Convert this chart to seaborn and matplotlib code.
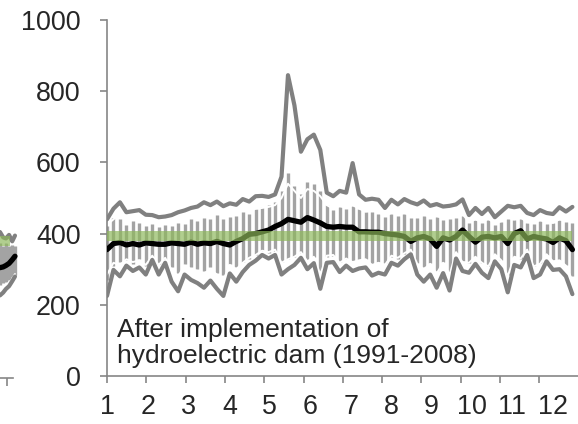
import numpy as np
import pandas as pd
import seaborn as sns
import matplotlib.pyplot as plt

# day-of-year samples every 5 days, expressed in months (1 = 1 Jan)
days = np.arange(1, 366, 5)
month = 1 + (days - 1) / 30.4

q_max = [440, 470, 488, 460, 463, 466, 453, 452, 446, 448, 452, 460, 465, 472, 476, 488,
         480, 490, 477, 485, 481, 497, 490, 505, 506, 503, 510, 560, 845, 760, 630, 665,
         678, 635, 515, 505, 520, 515, 598, 510, 495, 498, 495, 472, 495, 482, 497, 488,
         482, 493, 478, 483, 476, 478, 482, 496, 452, 472, 455, 472, 446, 462, 478, 474,
         478, 458, 452, 466, 458, 455, 474, 462, 475]
q_min = [225, 298, 280, 310, 295, 305, 285, 326, 285, 318, 265, 238, 285, 270, 261, 248,
         268, 245, 225, 288, 265, 292, 312, 324, 340, 330, 340, 285, 300, 312, 332, 300,
         317, 245, 318, 320, 292, 310, 295, 302, 305, 282, 290, 285, 318, 310, 328, 342,
         285, 265, 285, 248, 289, 240, 330, 295, 290, 315, 290, 275, 322, 300, 235, 312,
         305, 340, 275, 285, 322, 298, 300, 280, 230]
q_upper = [425, 440, 455, 438, 440, 445, 432, 435, 428, 430, 432, 438, 440, 445, 448, 455,
           450, 458, 452, 455, 458, 465, 462, 470, 472, 475, 480, 500, 540, 520, 500, 525,
           520, 505, 480, 470, 478, 472, 480, 470, 462, 465, 460, 450, 458, 455, 458, 452,
           448, 455, 445, 450, 442, 445, 448, 455, 432, 440, 432, 442, 428, 435, 445, 440,
           445, 432, 430, 438, 432, 430, 440, 435, 440]
q_lower = [285, 318, 312, 328, 320, 325, 312, 338, 312, 332, 298, 280, 310, 300, 295, 288,
           300, 285, 270, 312, 300, 318, 332, 340, 352, 348, 355, 318, 328, 335, 348, 322,
           335, 285, 338, 340, 318, 330, 320, 325, 328, 312, 318, 312, 338, 332, 345, 355,
           315, 300, 315, 288, 318, 285, 348, 320, 318, 335, 318, 308, 342, 325, 280, 335,
           330, 355, 308, 315, 342, 322, 325, 310, 268]
bar_top = [420, 445, 440, 425, 435, 430, 420, 428, 418, 425, 422, 430, 428, 440, 435, 445,
           440, 452, 440, 448, 450, 460, 455, 470, 475, 480, 490, 520, 570, 535, 510, 545,
           540, 520, 480, 465, 475, 470, 478, 468, 460, 462, 455, 448, 455, 450, 455, 445,
           445, 450, 440, 448, 438, 442, 445, 450, 430, 438, 430, 438, 425, 432, 440, 438,
           440, 430, 428, 435, 428, 430, 438, 432, 430]
bar_bot = [270, 310, 320, 325, 315, 330, 310, 335, 315, 330, 305, 290, 315, 305, 300, 295,
           305, 290, 285, 315, 305, 320, 330, 340, 350, 345, 350, 320, 330, 335, 345, 325,
           335, 295, 335, 338, 320, 330, 322, 325, 330, 315, 320, 318, 335, 330, 342, 352,
           318, 305, 318, 295, 320, 290, 345, 322, 318, 335, 318, 310, 340, 325, 285, 335,
           330, 352, 310, 318, 340, 325, 325, 312, 280]
q_mean = [355, 372, 375, 368, 372, 368, 374, 372, 370, 370, 374, 372, 370, 376, 370, 374,
          372, 378, 372, 368, 378, 386, 398, 400, 405, 410, 420, 428, 440, 436, 432, 445,
          438, 430, 420, 418, 420, 418, 418, 405, 405, 404, 404, 400, 398, 396, 392, 378,
          388, 392, 385, 364, 388, 382, 392, 410, 392, 376, 390, 392, 388, 392, 372, 400,
          408, 385, 392, 388, 385, 375, 388, 380, 355]
long_term_mean = 392

# tail of the neighbouring (pre-dam) panel, cut by the image edge
frag_month = [12.67, 12.75, 12.82, 12.90, 12.98, 13.05]
frag_max = [410, 395, 392, 402, 384, 400]
frag_upper = [390, 382, 386, 378, 380, 376]
frag_top = [378, 372, 380, 370, 375, 372]
frag_bot = [262, 268, 270, 275, 285, 290]
frag_lower = [250, 256, 262, 268, 278, 292]
frag_mean = [310, 312, 316, 322, 332, 342]
frag_min = [232, 240, 250, 258, 272, 285]
frag_band = 385

month_labels = [str(i) for i in range(1, 13)]

df = pd.DataFrame({"month": month, "max": q_max, "min": q_min, "upper": q_upper,
                   "lower": q_lower, "mean": q_mean})

sns.set_theme(style="ticks")
plt.rcParams["font.family"] = ["Liberation Sans", "DejaVu Sans"]

GREY = "#808080"
AXC = "#868686"
BAR = "#a3a3a3"
BAND = "#8db85a"

fig = plt.figure(figsize=(5.78, 4.24), dpi=100)
ax = fig.add_axes([107 / 578, 48 / 424, 471 / 578, 356 / 424])

ax.vlines(df["month"], bar_bot, bar_top, colors=BAR, lw=2.4, zorder=1)
for col in ["upper", "lower"]:
    sns.lineplot(data=df, x="month", y=col, ax=ax, color="white", lw=1.4, zorder=2)
for col in ["max", "min"]:
    sns.lineplot(data=df, x="month", y=col, ax=ax, color=GREY, lw=3.0, zorder=3)
sns.lineplot(data=df, x="month", y="mean", ax=ax, color="black", lw=3.8, zorder=4)
ax.plot([month[0], month[-1]], [long_term_mean, long_term_mean], color=BAND,
        alpha=0.68, lw=7.2, solid_capstyle="butt", zorder=5)

ax.set_xlim(1, 1 + 471 / 39.3)
ax.set_ylim(0, 1000)
ax.set_xlabel("")
ax.set_ylabel("")
ax.set_yticks(range(0, 1001, 200))
ax.set_xticks(range(1, 13))
ax.set_xticklabels([])
ax.set_xticks([1 + (i * 40.45 + 1) / 39.3 for i in range(12)], minor=True)
ax.set_xticklabels(month_labels, minor=True)
ax.tick_params(axis="y", which="major", direction="out", length=5, width=1.2, color=AXC,
               pad=14, labelsize=19.4, left=True)
ax.tick_params(axis="x", which="major", direction="out", length=5, width=1.2, color=AXC,
               bottom=True)
ax.tick_params(axis="x", which="minor", length=0, pad=13, labelsize=19.4, bottom=True)
for s in ["top", "right"]:
    ax.spines[s].set_visible(False)
for s in ["left", "bottom"]:
    ax.spines[s].set_color(AXC)
    ax.spines[s].set_linewidth(1.2)

fig.text(117 / 578, 1 - 368 / 424, "After implementation of\nhydroelectric dam (1991-2008)",
         fontsize=19, ha="left", va="bottom", linespacing=1.1)

# left neighbour fragment
ax0 = fig.add_axes([0, 46 / 424, 13 / 578, 356 / 424])
ax0.patch.set_visible(False)
ax0.vlines(frag_month, frag_bot, frag_top, colors=BAR, lw=2.4, zorder=1, clip_on=False)
ax0.plot(frag_month, frag_upper, color="white", lw=1.4, zorder=2, clip_on=False)
ax0.plot(frag_month, frag_lower, color="white", lw=1.4, zorder=2, clip_on=False)
ax0.plot(frag_month, frag_max, color=GREY, lw=3.0, zorder=3, clip_on=False)
ax0.plot(frag_month, frag_min, color=GREY, lw=3.0, zorder=3, clip_on=False)
ax0.plot(frag_month, frag_mean, color="black", lw=3.8, zorder=4, clip_on=False)
ax0.plot([12.67, 12.92], [frag_band, frag_band], color=BAND, alpha=0.68, lw=7.2,
         solid_capstyle="butt", zorder=5)
ax0.set_xlim(12.67, 13.0)
ax0.set_ylim(0, 1000)
ax0.set_xticks([12.85])
ax0.set_xticklabels([])
ax0.set_yticks([])
ax0.tick_params(axis="x", direction="out", length=5.5, width=1.2, color=AXC, bottom=True)
for s in ["top", "right", "left"]:
    ax0.spines[s].set_visible(False)
ax0.spines["bottom"].set_color(AXC)
ax0.spines["bottom"].set_linewidth(1.2)

fig.savefig("out.png", dpi=100)
